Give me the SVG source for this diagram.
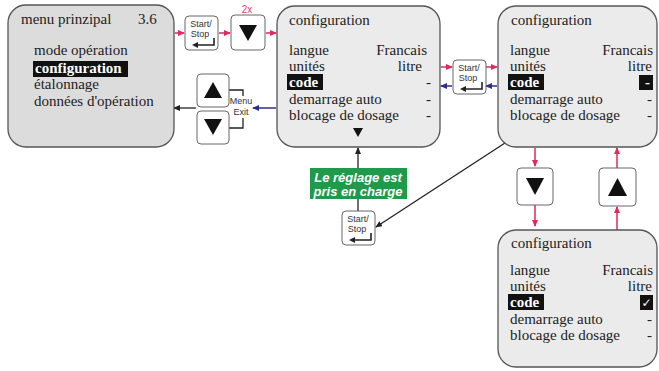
<svg xmlns="http://www.w3.org/2000/svg" xmlns:xlink="http://www.w3.org/1999/xlink" width="659" height="371" viewBox="0 0 659 371">
<style>
.scr{stroke:#555;stroke-width:1.3}
.s1{fill:#dcdcdc}
.s2{fill:#ebebeb}
.t{font-family:"Liberation Serif","Times New Roman",serif;font-size:15px;fill:#222}
.tb{font-family:"Liberation Serif","Times New Roman",serif;font-size:15px;font-weight:bold;fill:#fff}
.hl{fill:#111}
.btn{fill:#fff;stroke:#666;stroke-width:1}
.bt{font-family:"Liberation Sans",Arial,sans-serif;font-size:9px;fill:#333;text-anchor:middle}
.r{stroke:#e02a5c;stroke-width:1.5;fill:none}
.b{stroke:#2b2f8c;stroke-width:1.5;fill:none}
.k{stroke:#222;stroke-width:1.3;fill:none}
.end{text-anchor:end}
</style>
<defs>
<marker id="mr" markerWidth="7" markerHeight="6" refX="6" refY="3" orient="auto" markerUnits="userSpaceOnUse"><path d="M0,0 L7,3 L0,6 Z" fill="#e02a5c"/></marker>
<marker id="mb" markerWidth="7" markerHeight="6" refX="6" refY="3" orient="auto" markerUnits="userSpaceOnUse"><path d="M0,0 L7,3 L0,6 Z" fill="#2b2f8c"/></marker>
<marker id="mk" markerWidth="7" markerHeight="6" refX="6" refY="3" orient="auto" markerUnits="userSpaceOnUse"><path d="M0,0 L7,3 L0,6 Z" fill="#222"/></marker>
<g id="ss">
<rect class="btn" x="0" y="0" width="33" height="34" rx="4"/>
<text class="bt" x="16" y="11">Start/</text>
<text class="bt" x="15" y="21">Stop</text>
<path d="M29,22 V29 H12" stroke="#222" stroke-width="1.6" fill="none"/>
<path d="M7,29 L13,26 L13,32 Z" fill="#222"/>
</g>
</defs>

<g id="connectors">
<line class="r" x1="175" y1="33" x2="184" y2="33" marker-end="url(#mr)"/>
<line class="r" x1="219" y1="33" x2="230" y2="33" marker-end="url(#mr)"/>
<line class="r" x1="266" y1="33" x2="276" y2="33" marker-end="url(#mr)"/>
<line class="b" x1="276" y1="108" x2="253" y2="108" marker-end="url(#mb)"/>
<line class="k" x1="196" y1="108" x2="174" y2="108" marker-end="url(#mk)"/>
<path class="k" d="M229,90 H243 V128 H229" stroke="#555" stroke-width="1"/>
<line class="r" x1="441" y1="67" x2="452" y2="67" marker-end="url(#mr)"/>
<line class="r" x1="486" y1="67" x2="497" y2="67" marker-end="url(#mr)"/>
<line class="b" x1="497" y1="86" x2="486" y2="86" marker-end="url(#mb)"/>
<line class="b" x1="452" y1="86" x2="441" y2="86" marker-end="url(#mb)"/>
<line class="k" x1="505" y1="143" x2="376" y2="227" marker-end="url(#mk)"/>
<line class="k" x1="358" y1="211" x2="358" y2="148" marker-end="url(#mk)"/>
<line class="r" x1="535" y1="148" x2="535" y2="166" marker-end="url(#mr)"/>
<line class="r" x1="535" y1="205" x2="535" y2="226" marker-end="url(#mr)"/>
<line class="r" x1="617" y1="230" x2="617" y2="207" marker-end="url(#mr)"/>
<line class="r" x1="617" y1="168" x2="617" y2="148" marker-end="url(#mr)"/>
</g>

<g id="menu-exit-label">
<rect x="233" y="96" width="18" height="22" fill="#fff"/>
<text class="bt" x="241" y="104" font-size="8.5">Menu</text>
<text class="bt" x="241" y="115" font-size="8.5">Exit</text>
</g>

<g id="screen-menu">
<rect class="scr s1" x="8" y="5" width="166" height="142" rx="18"/>
<text class="t" x="21" y="24" font-size="16">menu prinzipal</text>
<text class="t" x="138" y="24">3.6</text>
<text class="t" x="34" y="55">mode opération</text>
<rect class="hl" x="33" y="61" width="95" height="16"/>
<text class="tb" x="35" y="73">configuration</text>
<text class="t" x="34" y="89">étalonnage</text>
<text class="t" x="34" y="106">données d'opération</text>
</g>

<g id="btn-start1"><use xlink:href="#ss" x="185" y="16"/></g>
<g id="btn-down1">
<rect class="btn" x="231" y="15" width="34" height="35" rx="4"/>
<path d="M239,25 L257,25 L248,41 Z" fill="#111"/>
</g>
<g id="label-2x"><text x="247" y="13" font-family="Liberation Sans,Arial,sans-serif" font-size="10" fill="#e0407a" text-anchor="middle">2x</text></g>

<g id="btn-up-left">
<rect class="btn" x="197" y="74" width="32" height="33" rx="4"/>
<path d="M204,98 L222,98 L213,82 Z" fill="#111"/>
</g>
<g id="btn-down-left">
<rect class="btn" x="197" y="111" width="32" height="33" rx="4"/>
<path d="M204,119 L222,119 L213,135 Z" fill="#111"/>
</g>

<g id="screen-config1">
<rect class="scr s2" x="277" y="6" width="163" height="141" rx="18"/>
<text class="t" x="289" y="25">configuration</text>
<text class="t" x="289" y="55">langue</text>
<text class="t end" x="427" y="55">Francais</text>
<text class="t" x="289" y="71">unités</text>
<text class="t end" x="422" y="71">litre</text>
<rect class="hl" x="287" y="74" width="36" height="16"/>
<text class="tb" x="289" y="87">code</text>
<text class="t end" x="431" y="87">-</text>
<text class="t" x="289" y="104">demarrage auto</text>
<text class="t end" x="431" y="104">-</text>
<text class="t" x="289" y="120">blocage de dosage</text>
<text class="t end" x="431" y="120">-</text>
<path d="M353,128 L363,128 L358,137 Z" fill="#111"/>
</g>

<g id="btn-start2"><use xlink:href="#ss" x="453" y="60"/></g>

<g id="screen-config2">
<rect class="scr s2" x="498" y="6" width="159" height="141" rx="18"/>
<text class="t" x="511" y="25">configuration</text>
<text class="t" x="510" y="55">langue</text>
<text class="t end" x="653" y="55">Francais</text>
<text class="t" x="510" y="71">unités</text>
<text class="t end" x="652" y="71">litre</text>
<rect class="hl" x="508" y="74" width="36" height="16"/>
<text class="tb" x="510" y="87">code</text>
<rect class="hl" x="639" y="75" width="14" height="15"/>
<text class="tb end" x="650" y="87">-</text>
<text class="t" x="510" y="104">demarrage auto</text>
<text class="t end" x="652" y="104">-</text>
<text class="t" x="510" y="120">blocage de dosage</text>
<text class="t end" x="652" y="120">-</text>
</g>

<g id="label-accepted">
<rect x="310" y="168" width="97" height="31" fill="#1e9a4a"/>
<text x="358" y="182" font-family="Liberation Sans,Arial,sans-serif" font-size="13" font-weight="bold" font-style="italic" fill="#fff" text-anchor="middle">Le réglage est</text>
<text x="358" y="196" font-family="Liberation Sans,Arial,sans-serif" font-size="13" font-weight="bold" font-style="italic" fill="#fff" text-anchor="middle">pris en charge</text>
</g>

<g id="btn-start3"><use xlink:href="#ss" x="342" y="211"/></g>

<g id="btn-down-right">
<rect class="btn" x="517" y="168" width="36" height="37" rx="4"/>
<path d="M526,178 L544,178 L535,195 Z" fill="#111"/>
</g>
<g id="btn-up-right">
<rect class="btn" x="599" y="168" width="37" height="38" rx="4"/>
<path d="M608,196 L627,196 L617.5,178 Z" fill="#111"/>
</g>

<g id="screen-config3">
<rect class="scr s2" x="498" y="230" width="159" height="137" rx="18"/>
<text class="t" x="511" y="248">configuration</text>
<text class="t" x="510" y="275">langue</text>
<text class="t end" x="653" y="275">Francais</text>
<text class="t" x="510" y="291">unités</text>
<text class="t end" x="652" y="291">litre</text>
<rect class="hl" x="508" y="294" width="36" height="16"/>
<text class="tb" x="510" y="307">code</text>
<rect class="hl" x="640" y="295" width="13" height="15"/>
<text x="646.5" y="307" font-family="DejaVu Sans,sans-serif" font-size="12" font-weight="bold" fill="#fff" text-anchor="middle">✓</text>
<text class="t" x="510" y="324">demarrage auto</text>
<text class="t end" x="652" y="324">-</text>
<text class="t" x="510" y="340">blocage de dosage</text>
<text class="t end" x="652" y="340">-</text>
</g>
</svg>
